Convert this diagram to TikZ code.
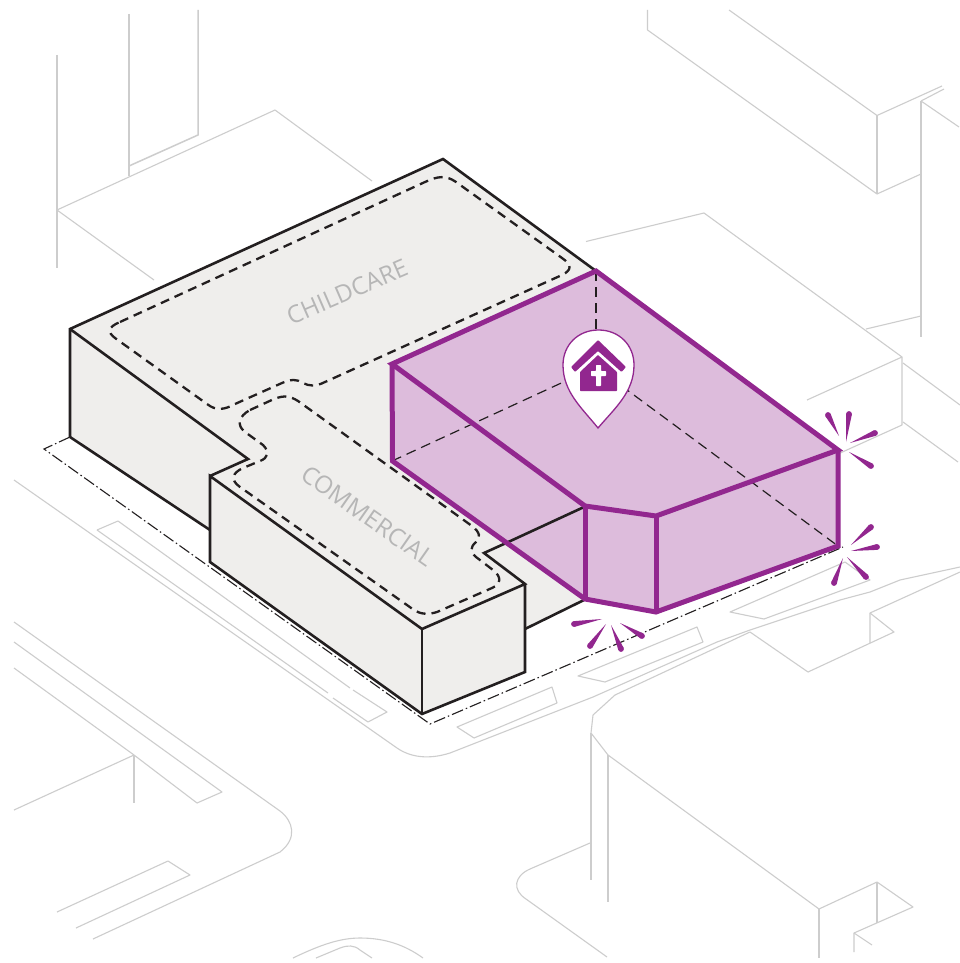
\documentclass[tikz,border=0pt]{standalone}
\usepackage{fontspec}
\setmainfont{Open Sans}
\usetikzlibrary{calc}
\definecolor{ctx}{HTML}{CDCDCD}
\definecolor{ink}{HTML}{231F20}
\definecolor{mass}{HTML}{EFEEEC}
\definecolor{plum}{HTML}{92278F}
\definecolor{plumfill}{HTML}{DDBCDC}
\definecolor{lbl}{HTML}{B6B6B6}
\tikzset{
  context/.style={draw=ctx,line width=1.1pt,line join=round},
  contextv/.style={draw=ctx,line width=1.5pt},
  solidblack/.style={draw=ink,line width=2.6pt,line join=miter},
  zone/.style={draw=ink,line width=2.3pt,dash pattern=on 9pt off 6pt},
  hidden/.style={draw=ink,line width=1.2pt,dash pattern=on 10pt off 6pt},
  site/.style={draw=ink,line width=1.1pt,dash pattern=on 12pt off 3pt on 1.5pt off 3pt},
  edgeplum/.style={draw=plum,line width=5pt,line join=miter,line cap=butt},
  spikefill/.style={fill=plum},
  zonelabel/.style={text=lbl,font=\fontsize{24.2}{24}\selectfont,inner sep=0pt}
}
\newcommand{\tspike}[4]{%
  \coordinate (sT) at (#1,#2);\coordinate (sE) at (#3,#4);
  \fill[spikefill] (sT) -- ($(sE)!2.9pt!90:(sT)$) -- ($(sE)!2.9pt!-90:(sT)$) -- cycle;
  \fill[spikefill] (sE) circle (2.9pt);}
\begin{document}
\begin{tikzpicture}[x=1pt,y=-1pt]
\useasboundingbox (0,0) rectangle (960,963);
\fill[white] (0,0) rectangle (960,963);
% ---- context top left
\draw[contextv] (57,55) -- (57,268);
\draw[contextv] (129,14) -- (129,176);
\draw[contextv] (198,10) -- (198,135) -- (129,166);
\draw[context] (154,280) -- (57,210) -- (275,110) -- (372,181);
% ---- context top right
\draw[context] (647.5,10) -- (647.5,30) -- (877,194) -- (921,174);
\draw[context] (729,10) -- (877,115.5) -- (942,86);
\draw[context] (877,115.5) -- (877,194);
\draw[contextv] (921,101) -- (921,337);
\draw[context] (921,101) -- (944,89);
\draw[context] (921,101) -- (959,127);
\draw[context] (586,241.5) -- (704,213) -- (902,357) -- (902,425) -- (838,454);
\draw[context] (807,400) -- (902,357);
\draw[context] (866,329) -- (921,316);
\draw[context] (903,363) -- (960,405);
\draw[context] (903,422) -- (958,462);
% ---- context bottom left
\draw[context] (14,480) -- (397,748) .. controls (410,757) and (428,760) .. (450,753) -- (593,697) -- (717,642) -- (750,630) -- (840,600) -- (870,592) -- (900,580) -- (960,567);
\draw[context] (97,530) -- (118,521) -- (350,688);
\draw[context] (353,690) -- (387,712) -- (368,722) -- (333,698);
\draw[context] (328,693) -- (97,530);
\draw[context] (14,622) -- (280,811) .. controls (293,821) and (298,838) .. (280,852) -- (93,939);
\draw[context] (14,642) -- (222,792) -- (197,803) -- (134,755) -- (14,668);
\draw[context] (134,755) -- (14,810);
\draw[contextv] (134,755) -- (134,803);
\draw[context] (57,912) -- (168,861) -- (190,875) -- (76,928);
\draw[context] (293,958) .. controls (320,945) and (340,938) .. (360,938) .. controls (385,938) and (405,945) .. (423,958);
\draw[context] (316,958) -- (340,948) .. controls (348,945) and (354,945) .. (360,950) -- (372,958);
% ---- context bottom right
\draw[context] (457,727) -- (552,687) -- (557,703) -- (474,738) -- cycle;
\draw[context] (578,676) -- (697,627) -- (703,642) -- (605,682) -- cycle;
\draw[context] (730,612) -- (845,562) -- (870,580) -- (764,619) -- cycle;
\draw[context] (960,572) -- (870,613) -- (870,643);
\draw[context] (870,613) -- (894,632) -- (808,672) -- (750,632);
\draw[context] (750,632) -- (615,695) -- (593,715) -- (591,733) -- (608,755) -- (819,909);
\draw[contextv] (591,733) -- (591,880);
\draw[contextv] (608,755) -- (608,902);
\draw[context] (590,843) -- (530,869) .. controls (514,876) and (512,890) .. (526,899) -- (607,957);
\draw[contextv] (819,909) -- (819,958);
\draw[context] (819,909) -- (877,882) -- (913,907) -- (854,933) -- (854,952);
\draw[contextv] (877,882) -- (877,923);
\draw[context] (854,933) -- (872,945);
% ---- site boundary
\draw[site] (70,437) -- (44,449) -- (430,724) -- (843,547);
% ---- solid masses
\fill[mass] (70,329) -- (443,159) -- (596,271) -- (392,364) -- (392,461) -- (584,600) -- (525,629) -- (525,672) -- (422,714) -- (210,562) -- (210,530) -- (70,437) -- cycle;
\draw[solidblack] (70,437) -- (70,329) -- (443,159) -- (596,271);
\draw[solidblack] (70,329) -- (248,459) -- (210,476);
\draw[solidblack] (70,437) -- (210,530);
\draw[solidblack] (525,629) -- (584,600);
\draw[solidblack] (525,584) -- (525,672) -- (422,714) -- (210,562) -- (210,476) -- (422,629) -- (525,584) -- (484,553) -- (505,543.5);
\draw[solidblack] (422,629) -- (422,714);
% ---- zone outlines
\draw[zone] (120,322) -- (425,182) .. controls (438,176) and (446,175) .. (456,182) -- (562,258) .. controls (572,265) and (572,270) .. (562,275) -- (325,382) .. controls (315,387) and (309,386) .. (303,383) .. controls (297,379) and (291,379) .. (282,383) -- (235,404) .. controls (224,410) and (216,411) .. (207,404) -- (115,338) .. controls (107,332) and (108,327) .. (120,322) -- cycle;
\draw[zone] (250,410) -- (274,399) .. controls (284,395) and (290,396) .. (298,401) -- (472,526) .. controls (480,532) and (481,538) .. (476,542) .. controls (470,547) and (470,552) .. (476,557) -- (493,570) .. controls (502,577) and (501,584) .. (492,588) -- (437,612) .. controls (428,615) and (420,614) .. (414,610) -- (240,487) .. controls (230,480) and (232,473) .. (243,468) -- (260,461) .. controls (268,458) and (270,452) .. (263,445) -- (245,432) .. controls (236,425) and (239,416) .. (250,410) -- cycle;
% ---- labels
\node[zonelabel,rotate=23.5] (childcare) at (347,292) {CHILDCARE};
\node[zonelabel,rotate=-35] (commercial) at (368,516) {COMMERCIAL};
% ---- highlighted volume
\fill[plumfill] (392,364) -- (596,271) -- (838,450) -- (838,546) -- (656,612) -- (585,599) -- (392,461) -- cycle;
\draw[solidblack] (505,543.5) -- (584,507);
\draw[hidden] (392,461) -- (596,367) -- (838,546);
\draw[hidden] (596,271) -- (596,367);
\draw[edgeplum] (392,364) -- (596,271) -- (838,450) -- (656,516) -- (585,506) -- cycle;
\draw[edgeplum] (392,364) -- (392.5,461) -- (585,599) -- (656,612) -- (838,546) -- (838,450);
\draw[edgeplum] (585,506) -- (585,599);
\draw[edgeplum] (656,516) -- (656,612);
% ---- bursts
\tspike{839}{436}{828}{415}
\tspike{846}{442}{849}{414}
\tspike{850}{443}{875}{433}
\tspike{849}{452}{871}{466}
\tspike{851}{545}{871}{527}
\tspike{851}{551}{877}{547}
\tspike{847}{557}{866}{577}
\tspike{843}{558}{834}{583}
\tspike{602}{619}{574}{624}
\tspike{606}{624}{590}{646}
\tspike{611}{625}{621}{649}
\tspike{620}{623}{642}{636}
% ---- pin
\draw[draw=plum,fill=white,line width=1.3pt] (598,428) .. controls (582,408) and (563,392) .. (563,365) .. controls (563,345) and (578,330) .. (598.5,330) .. controls (619,330) and (634,345) .. (634,365) .. controls (634,392) and (615,408) .. (598,428) -- cycle;
\fill[plum,rounded corners=1pt] (598,340) -- (626,367) -- (621.5,372) -- (598,351) -- (575,372) -- (571,367) -- cycle;
\fill[plum,rounded corners=0.7pt] (598,355) -- (617,372) -- (617,391) -- (580,391) -- (580,372) -- cycle;
\fill[white,rounded corners=0.7pt] (596,365) -- (601,365) -- (601,371) -- (606,371) -- (606,376) -- (601,376) -- (601,386) -- (596,386) -- (596,376) -- (591,376) -- (591,371) -- (596,371) -- cycle;
\end{tikzpicture}
\end{document}
